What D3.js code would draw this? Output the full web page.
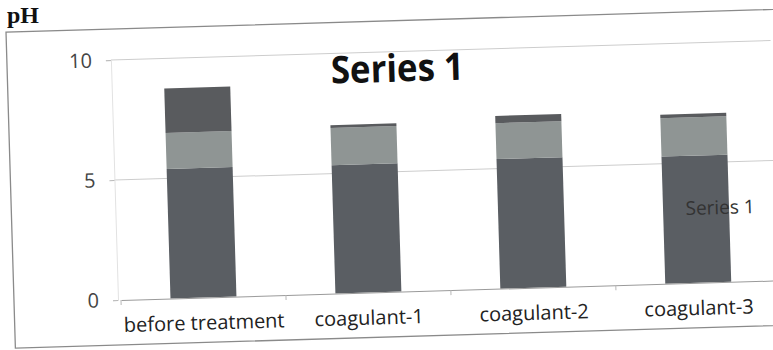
<!DOCTYPE html>
<html>
<head>
<meta charset="utf-8">
<script src="https://cdn.jsdelivr.net/npm/d3@7"></script>
<style>
  html, body { margin: 0; padding: 0; background: #fff; }
  svg { display: block; }
</style>
</head>
<body>
<div id="chart"></div>
<script>
  // pH readings, stacked in three parts per sample
  const categories = ['before treatment', 'coagulant-1', 'coagulant-2', 'coagulant-3'];
  const lowerPart = [5.4, 5.35, 5.4, 5.3];
  const middlePart = [1.5, 1.55, 1.5, 1.6];
  const upperPart = [1.85, 0.12, 0.3, 0.15];
  const yTicks = [0, 5, 10];

  const W = 773, H = 350;
  // plot area (unrotated frame)
  const plotLeft = 118, plotTop = 60, plotBottom = 300, plotW = 660;

  const svg = d3.select('#chart')
    .append('svg')
    .attr('width', W)
    .attr('height', H);

  // page label above the chart
  svg.append('text')
    .attr('x', 7)
    .attr('y', 23)
    .style('font-family', '"Liberation Serif", serif')
    .style('font-weight', 'bold')
    .style('font-size', '24px')
    .style('fill', '#111')
    .text('pH');

  // the scan is tilted a little, so the whole chart is turned with it
  const g = svg.append('g')
    .attr('transform', `rotate(-1.7, ${plotLeft}, ${plotBottom})`);

  // chart frame
  g.append('rect')
    .attr('x', 14)
    .attr('y', 29)
    .attr('width', 820)
    .attr('height', 316)
    .attr('fill', 'none')
    .attr('stroke', '#8a8a8a')
    .attr('stroke-width', 1.3);

  const x = d3.scaleBand()
    .domain(categories)
    .range([plotLeft + 3, plotLeft + plotW + 3])
    .paddingInner(0.6)
    .paddingOuter(0.3);

  const y = d3.scaleLinear()
    .domain([0, 10])
    .range([plotBottom, plotTop]);

  // gridlines
  g.append('g')
    .selectAll('line')
    .data(yTicks.filter(d => d > 0))
    .enter()
    .append('line')
    .attr('x1', plotLeft)
    .attr('x2', plotLeft + plotW)
    .attr('y1', d => y(d))
    .attr('y2', d => y(d))
    .attr('stroke', '#cdcdcd')
    .attr('stroke-width', 1);

  // stacked bars
  const rows = categories.map((c, i) => ({
    cat: c, lower: lowerPart[i], middle: middlePart[i], upper: upperPart[i]
  }));
  const stack = d3.stack().keys(['lower', 'middle', 'upper'])(rows);
  const colors = { lower: '#5a5e63', middle: '#8f9594', upper: '#595b5e' };

  g.append('g')
    .selectAll('g')
    .data(stack)
    .enter()
    .append('g')
    .attr('fill', d => colors[d.key])
    .selectAll('rect')
    .data(d => d)
    .enter()
    .append('rect')
    .attr('x', d => x(d.data.cat))
    .attr('y', d => y(d[1]))
    .attr('width', x.bandwidth())
    .attr('height', d => y(d[0]) - y(d[1]));

  // y axis
  const yAxis = g.append('g')
    .attr('transform', `translate(${plotLeft},0)`)
    .call(d3.axisLeft(y).tickValues(yTicks).tickSize(5).tickPadding(14));
  yAxis.select('.domain').attr('stroke', '#e2e2e2');
  yAxis.selectAll('.tick line').attr('stroke', '#b8b8b8');
  yAxis.selectAll('text')
    .style('font-family', '"Open Sans", sans-serif')
    .style('font-size', '20px')
    .style('fill', '#444');

  // x axis
  const xAxis = g.append('g')
    .attr('transform', `translate(0,${plotBottom})`)
    .call(d3.axisBottom(x).tickSize(0).tickPadding(18));
  xAxis.select('.domain').attr('stroke', '#9a9a9a');
  xAxis.selectAll('text')
    .style('font-family', '"Open Sans", sans-serif')
    .style('font-size', '20px')
    .style('fill', '#222');

  // category boundary ticks
  const step = x.step();
  g.append('g')
    .selectAll('line')
    .data(d3.range(categories.length))
    .enter()
    .append('line')
    .attr('x1', i => plotLeft + 3 + i * step)
    .attr('x2', i => plotLeft + 3 + i * step)
    .attr('y1', plotBottom)
    .attr('y2', plotBottom + 5)
    .attr('stroke', '#b8b8b8');

  // chart title
  g.append('text')
    .attr('x', 404)
    .attr('y', 90)
    .attr('text-anchor', 'middle')
    .attr('textLength', 133)
    .attr('lengthAdjust', 'spacingAndGlyphs')
    .style('font-family', '"Open Sans", sans-serif')
    .style('font-weight', 'bold')
    .style('font-size', '38px')
    .style('fill', '#111')
    .text('Series 1');

  // legend text
  g.append('text')
    .attr('x', 688)
    .attr('y', 232)
    .style('font-family', '"Open Sans", sans-serif')
    .style('font-size', '19px')
    .style('fill', '#333')
    .text('Series 1');
</script>
</body>
</html>
